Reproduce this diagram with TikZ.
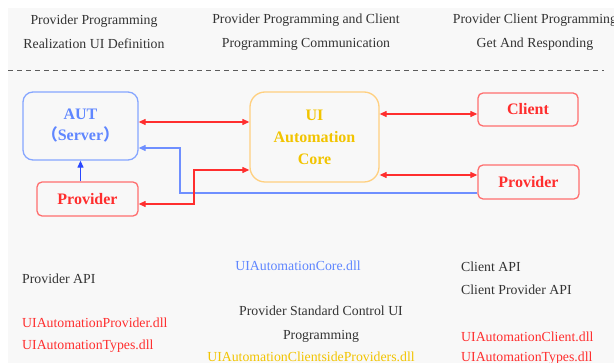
\documentclass[tikz,border=0pt]{standalone}
\usepackage{fontspec}
\setmainfont{Liberation Serif}
\newfontfamily\cjk{Noto Sans CJK SC}
\usetikzlibrary{arrows.meta,calc}

\definecolor{bgc}{HTML}{F8F8F8}
\definecolor{txt}{HTML}{333333}
\definecolor{redl}{HTML}{FF2E2E}
\definecolor{redb}{HTML}{FF6E6E}
\definecolor{bluet}{HTML}{5F86FF}
\definecolor{blueb}{HTML}{86A6FF}
\definecolor{bluea}{HTML}{2A48FF}
\definecolor{bluel}{HTML}{6F8FFF}
\definecolor{orab}{HTML}{FFD080}
\definecolor{yel}{HTML}{F2C400}

\tikzset{
  >={Triangle[length=7pt,width=6pt]},
  box/.style={draw, line width=1.3pt, rounded corners=5pt, inner sep=0pt,
    font=\fontsize{16}{21}\selectfont\bfseries, align=center},
  redbox/.style={box, draw=redb, text=redl},
  hdr/.style={font=\fontsize{13.8}{24}\selectfont, text=txt, align=center, inner sep=0pt},
  lbl/.style={font=\fontsize{13.8}{16}\selectfont, inner sep=0pt, anchor=base west},
  clbl/.style={font=\fontsize{13.8}{16}\selectfont, inner sep=0pt, anchor=base},
  dbl/.style={draw=redl, line width=1.2pt, <->},
}

\begin{document}
\begin{tikzpicture}[x=1pt,y=-1pt]
\useasboundingbox (0,0) rectangle (614,363);
\fill[white] (0,0) rectangle (614,363);
\fill[bgc] (8,8) rectangle (614,363);

% column headings
\node[hdr] (h1) at (94,32) {Provider Programming\\Realization UI Definition};
\node[hdr] (h2) at (306,32) {Provider Programming and Client\\Programming Communication};
\node[hdr] (h3) at (535,32) {Provider Client Programming\\Get And Responding};
\coordinate (dl) at (8,70);
\coordinate (dr) at (604,70);
\draw[txt!80, line width=0.9pt, dash pattern=on 5pt off 4pt] (dl) -- (dr);

% components
\node[box, draw=blueb, text=bluet, rounded corners=10pt,
      minimum width=115pt, minimum height=68pt] (aut) at (80.5,126)
      {AUT\\{\cjk （}Server{\cjk ）}};
\node[redbox, minimum width=101pt, minimum height=34pt] (provl) at (87.5,199) {Provider};
\node[box, draw=orab, text=yel, rounded corners=15pt, font=\fontsize{16}{22}\selectfont\bfseries,
      minimum width=129pt, minimum height=90pt] (core) at (314.5,137)
      {UI\\Automation\\Core};
\node[redbox, minimum width=100pt, minimum height=33pt] (client) at (528,109.5) {Client};
\node[redbox, minimum width=101pt, minimum height=34pt] (provr) at (528.5,182) {Provider};

% connectors
\coordinate (c0) at ([yshift=4pt]aut.east);
\draw[dbl] (c0) -- (core.west |- c0);
\coordinate (c1) at ([yshift=-4.5pt]client.west);
\draw[dbl] (core.east |- c1) -- (c1);
\coordinate (c2) at ([yshift=7pt]provr.west);
\draw[dbl] (core.east |- c2) -- (c2);

\draw[draw=bluea, line width=1.2pt, ->] (aut.south |- provl.north) -- (aut.south);

\coordinate (b1) at ([yshift=-11pt]provr.west);
\coordinate (b2) at ([yshift=-22pt]aut.east);
\coordinate (bx) at (180,160);
\draw[draw=bluel, line width=1.2pt, ->] (b1) -- (bx |- b1) -- (bx |- b2) -- (b2);

\coordinate (r1) at ([yshift=-5pt]provl.east);
\coordinate (r2) at ([yshift=-33pt]core.west);
\draw[dbl] (r1) -| ($(r1)!.5!(r2)$) |- (r2);

% libraries and interfaces
\node[lbl, text=txt] (papi) at (22,283.5) {Provider API};
\node[lbl, text=redl] (pdll) at (22,327.5) {UIAutomationProvider.dll};
\node[lbl, text=redl] (tdll1) at (22,349.5) {UIAutomationTypes.dll};

\node[clbl, text=bluet] (cdll) at (298,270.5) {UIAutomationCore.dll};
\node[clbl, text=txt] (ps1) at (321,315.5) {Provider Standard Control UI};
\node[clbl, text=txt] (ps2) at (321,339.5) {Programming};
\node[clbl, text=yel] (csdll) at (311,361.5) {UIAutomationClientsideProviders.dll};

\node[lbl, text=txt] (capi) at (461,271.5) {Client API};
\node[lbl, text=txt] (cpapi) at (461,294.5) {Client Provider API};
\node[lbl, text=redl] (cldll) at (461,341.5) {UIAutomationClient.dll};
\node[lbl, text=redl] (tdll2) at (461,361.5) {UIAutomationTypes.dll};
\end{tikzpicture}
\end{document}
